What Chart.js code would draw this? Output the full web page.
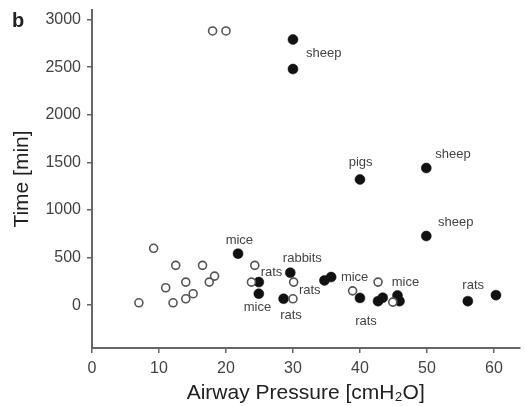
<!DOCTYPE html>
<html>
<head>
<meta charset="utf-8">
<script src="https://cdn.jsdelivr.net/npm/chart.js@4"></script>
<style>
html,body{margin:0;padding:0;background:#fff;}
#wrap{position:relative;width:525px;height:406px;}
</style>
</head>
<body>
<div id="wrap"><canvas id="c" width="525" height="406"></canvas></div>
<script>
// ---- data ----
const openX = [18.0, 20.0, 9.2, 12.5, 16.5, 24.3, 14.0, 11.0, 18.3, 17.5, 23.8, 15.1, 14.0, 12.1, 7.0, 30.1, 30.0, 38.9, 42.7, 44.9];
const openY = [2880, 2880, 597, 418, 418, 418, 242, 183, 305, 242, 242, 120, 67, 25, 25, 242, 67, 150, 242, 32];
const filledX = [30.0, 30.0, 40.0, 49.9, 49.9, 21.8, 24.9, 24.9, 29.6, 28.6, 34.7, 35.7, 40.0, 42.7, 43.4, 45.6, 45.9, 56.1, 60.3];
const filledY = [2790, 2480, 1320, 1440, 726, 541, 242, 120, 341, 67, 260, 295, 76, 42, 78, 102, 42, 42, 105];
const labelText = ["sheep", "pigs", "sheep", "sheep", "mice", "rabbits", "rats", "mice", "mice", "rats", "rats", "mice", "rats", "rats"];
const labelX = [34.6, 40.1, 53.9, 54.3, 22.0, 31.4, 26.8, 39.2, 46.8, 32.5, 56.9, 24.7, 29.7, 40.9];
const labelY = [2639, 1502, 1586, 874, 681, 488, 347, 288, 242, 155, 207, -27, -105, -168];
const xTicks = [0, 10, 20, 30, 40, 50, 60];
const yTicks = [0, 500, 1000, 1500, 2000, 2500, 3000];
const xTitle = "Airway Pressure [cmH\u2082O]";
const yTitle = "Time [min]";
const panelLetter = "b";

const FONT = "'Liberation Sans', Arial, Helvetica, sans-serif";

const labelPlugin = {
  id: 'pointLabels',
  afterDatasetsDraw(chart) {
    const ctx = chart.ctx, xs = chart.scales.x, ys = chart.scales.y;
    ctx.save();
    ctx.font = "13px " + FONT;
    ctx.fillStyle = "#444";
    ctx.textAlign = "center";
    ctx.textBaseline = "middle";
    labelText.forEach((t, i) => {
      ctx.fillText(t, xs.getPixelForValue(labelX[i]), ys.getPixelForValue(labelY[i]));
    });
    ctx.restore();
  },
  afterDraw(chart) {
    const ctx = chart.ctx;
    ctx.save();
    ctx.font = "bold 20px " + FONT;
    ctx.fillStyle = "#222";
    ctx.textAlign = "left";
    ctx.textBaseline = "alphabetic";
    ctx.fillText(panelLetter, 12, 27);
    ctx.restore();
  }
};

new Chart(document.getElementById('c'), {
  type: 'scatter',
  data: {
    datasets: [
      {
        label: 'open',
        data: openX.map((x, i) => ({x: x, y: openY[i]})),
        pointStyle: 'circle',
        pointRadius: 4,
        pointBackgroundColor: '#fff',
        pointBorderColor: '#555',
        pointBorderWidth: 1.6
      },
      {
        label: 'filled',
        data: filledX.map((x, i) => ({x: x, y: filledY[i]})),
        pointStyle: 'circle',
        pointRadius: 5,
        pointBackgroundColor: '#111',
        pointBorderColor: '#111',
        pointBorderWidth: 0.5
      }
    ]
  },
  options: {
    responsive: false,
    animation: false,
    devicePixelRatio: 1,
    layout: {padding: {left: 0, top: 10, right: 4, bottom: 0}},
    plugins: {legend: {display: false}, tooltip: {enabled: false}},
    scales: {
      x: {
        type: 'linear',
        min: 0, max: 63.8,
        afterBuildTicks: s => { s.ticks = xTicks.map(v => ({value: v})); },
        afterFit: s => { s.height = 58; s.paddingLeft = 0; s.paddingRight = 0; },
        grid: {drawOnChartArea: false, drawTicks: true, tickLength: 5, color: '#666', lineWidth: 1.5},
        border: {display: true, color: '#666', width: 2},
        ticks: {color: '#444', font: {family: FONT, size: 16}, padding: 6, maxRotation: 0, callback: v => String(v)},
        title: {display: true, text: xTitle, color: '#222', font: {family: FONT, size: 21}, padding: {top: 0, bottom: 0}}
      },
      y: {
        type: 'linear',
        min: -450, max: 3100,
        afterBuildTicks: s => { s.ticks = yTicks.map(v => ({value: v})); },
        afterFit: s => { s.width = 92; s.paddingTop = 0; s.paddingBottom = 0; },
        grid: {drawOnChartArea: false, drawTicks: true, tickLength: 5, color: '#666', lineWidth: 1.5},
        border: {display: true, color: '#666', width: 2},
        ticks: {color: '#444', font: {family: FONT, size: 16}, padding: 6, callback: v => String(v)},
        title: {display: true, text: yTitle, color: '#222', font: {family: FONT, size: 21}, padding: {top: 10, bottom: 0}}
      }
    }
  },
  plugins: [labelPlugin]
});
</script>
</body>
</html>
